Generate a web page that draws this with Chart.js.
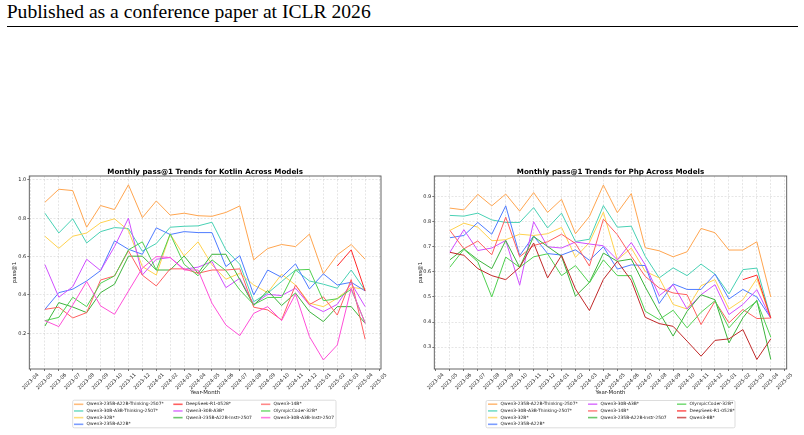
<!DOCTYPE html>
<html>
<head>
<meta charset="utf-8">
<title>Monthly pass@1 Trends</title>
<script src="https://cdn.jsdelivr.net/npm/chart.js@4.4.1/dist/chart.umd.min.js"></script>
<style>
  body { margin: 0; width: 804px; height: 435px; background: #fff; position: relative; overflow: hidden; }
  #header { position: absolute; left: 6.7px; top: 2.2px; font-family: 'Liberation Serif', 'Times New Roman', serif; font-size: 19.6px; line-height: 1; color: #000; white-space: nowrap; }
  #rule { position: absolute; left: 6.5px; top: 26.3px; width: 791px; height: 1px; background: #000; }
  canvas { position: absolute; }
</style>
</head>
<body>
<div id="header">Published as a conference paper at ICLR 2026</div>
<div id="rule"></div>
<canvas id="kotlin-chart" width="400" height="272" style="left:0;top:160px"></canvas>
<canvas id="php-chart" width="404" height="272" style="left:400px;top:160px"></canvas>
<script>
'use strict';

// Tick labels of the x axis (data runs 2023-05 .. 2025-04)
const months = ['2023-04', '2023-05', '2023-06', '2023-07', '2023-08', '2023-09', '2023-10',
  '2023-11', '2023-12', '2024-01', '2024-02', '2024-03', '2024-04', '2024-05', '2024-06',
  '2024-07', '2024-08', '2024-09', '2024-10', '2024-11', '2024-12', '2025-01', '2025-02',
  '2025-03', '2025-04', '2025-05'];

const kotlinYTicks = [0.2, 0.4, 0.6, 0.8, 1.0];
const phpYTicks = [0.3, 0.4, 0.5, 0.6, 0.7, 0.8, 0.9];

// Kotlin pass@1 per month
const kotlinThinking235 = [0.883, 0.951, 0.944, 0.753, 0.866, 0.845, 0.974, 0.803, 0.890, 0.816, 0.826, 0.813, 0.810, 0.830, 0.864, 0.583, 0.642, 0.663, 0.652, 0.717, 0.510, 0.609, 0.663, 0.586];
const kotlinThinking30 = [0.826, 0.723, 0.797, 0.671, 0.730, 0.751, 0.746, 0.628, 0.668, 0.753, 0.758, 0.760, 0.779, 0.635, 0.560, 0.365, 0.409, 0.470, 0.530, 0.473, 0.456, 0.435, 0.530, 0.423];
const kotlin32B = [0.706, 0.643, 0.706, 0.723, 0.776, 0.797, 0.736, 0.548, 0.504, 0.717, 0.603, 0.677, 0.557, 0.482, 0.513, 0.452, 0.412, 0.508, 0.452, 0.357, 0.339, 0.383, 0.440, 0.430];
const kotlin235B = [0.325, 0.412, 0.430, 0.473, 0.527, 0.682, 0.638, 0.612, 0.750, 0.715, 0.730, 0.725, 0.725, 0.548, 0.605, 0.400, 0.530, 0.492, 0.562, 0.431, 0.510, 0.452, 0.466, 0.421];
const kotlinDeepSeek = [null, null, null, null, null, null, null, null, null, null, null, null, null, null, null, null, null, null, null, null, null, 0.551, 0.635, 0.420];
const kotlin30B = [0.558, 0.388, 0.443, 0.586, 0.527, 0.652, 0.800, 0.504, 0.586, 0.595, 0.534, 0.545, 0.574, 0.438, 0.487, 0.351, 0.403, 0.397, 0.435, 0.348, 0.313, 0.351, 0.461, 0.339];
const kotlin235Instr = [0.238, 0.360, 0.337, 0.308, 0.412, 0.456, 0.602, 0.602, 0.530, 0.530, 0.603, 0.513, 0.612, 0.612, 0.480, 0.345, 0.423, 0.345, 0.410, 0.313, 0.261, 0.339, 0.339, 0.252];
const kotlin14B = [0.325, 0.336, 0.280, 0.308, 0.478, 0.499, 0.630, 0.503, 0.447, 0.536, 0.536, 0.513, 0.530, 0.530, 0.536, 0.336, 0.322, 0.270, 0.452, 0.350, 0.390, 0.295, 0.480, 0.169];
const kotlinOlympic = [0.266, 0.283, 0.388, 0.339, 0.461, 0.499, 0.635, 0.677, 0.530, 0.718, 0.560, 0.500, 0.583, 0.527, 0.426, 0.350, 0.387, 0.387, 0.530, 0.533, 0.370, 0.380, 0.430, 0.255];
const kotlin30BInstr = [0.266, 0.235, 0.348, 0.470, 0.343, 0.299, 0.420, 0.540, 0.600, 0.595, 0.530, 0.530, 0.357, 0.243, 0.188, 0.304, 0.339, 0.266, 0.405, 0.183, 0.061, 0.139, 0.435, 0.252];

// Php pass@1 per month
const phpThinking235 = [0.854, 0.847, 0.909, 0.863, 0.910, 0.842, 0.916, 0.837, 0.889, 0.752, 0.821, 0.946, 0.836, 0.912, 0.696, 0.684, 0.660, 0.680, 0.773, 0.756, 0.687, 0.687, 0.720, 0.500];
const phpThinking30 = [0.825, 0.822, 0.834, 0.807, 0.797, 0.797, 0.856, 0.775, 0.834, 0.721, 0.730, 0.864, 0.778, 0.782, 0.662, 0.576, 0.616, 0.585, 0.631, 0.591, 0.512, 0.609, 0.615, 0.416];
const php32B = [0.765, 0.794, 0.778, 0.724, 0.728, 0.750, 0.745, 0.752, 0.777, 0.658, 0.717, 0.838, 0.648, 0.695, 0.602, 0.576, 0.470, 0.452, 0.545, 0.569, 0.452, 0.489, 0.573, 0.416];
const php235B = [0.736, 0.745, 0.797, 0.750, 0.863, 0.665, 0.743, 0.673, 0.667, 0.688, 0.646, 0.700, 0.611, 0.628, 0.625, 0.474, 0.552, 0.530, 0.530, 0.591, 0.492, 0.530, 0.500, 0.416];
const php30B = [0.678, 0.768, 0.685, 0.695, 0.725, 0.547, 0.800, 0.700, 0.695, 0.719, 0.711, 0.704, 0.648, 0.717, 0.628, 0.505, 0.549, 0.452, 0.509, 0.549, 0.430, 0.470, 0.529, 0.416];
const php14B = [0.765, 0.692, 0.723, 0.668, 0.818, 0.660, 0.705, 0.720, 0.750, 0.713, 0.623, 0.810, 0.748, 0.662, 0.582, 0.536, 0.516, 0.509, 0.390, 0.483, 0.397, 0.450, 0.414, 0.416];
const php235Instr = [0.648, 0.692, 0.648, 0.613, 0.725, 0.618, 0.741, 0.701, 0.662, 0.503, 0.558, 0.675, 0.642, 0.651, 0.540, 0.439, 0.344, 0.443, 0.509, 0.489, 0.317, 0.417, 0.487, 0.251];
const phpOlympic = [0.619, 0.690, 0.640, 0.500, 0.659, 0.618, 0.660, 0.672, 0.585, 0.625, 0.556, 0.648, 0.585, 0.585, 0.443, 0.410, 0.447, 0.377, 0.439, 0.485, 0.377, 0.440, 0.483, 0.340];
const phpDeepSeek = [null, null, null, null, null, null, null, null, null, null, null, null, null, null, null, null, null, null, null, null, null, 0.569, 0.587, 0.416];
const php8B = [0.678, 0.666, 0.613, 0.585, 0.569, 0.618, 0.715, 0.576, 0.666, 0.532, 0.446, 0.570, 0.642, 0.566, 0.419, 0.394, 0.383, 0.324, 0.264, 0.327, 0.333, 0.370, 0.251, 0.333];

// Line colour for every model
const modelColors = {
  'Qwen3-235B-A22B-Thinking-2507*': '#ffa54f',
  'Qwen3-30B-A3B-Thinking-2507*': '#48d1b4',
  'Qwen3-32B*': '#ffd24f',
  'Qwen3-235B-A22B*': '#4f7cff',
  'DeepSeek-R1-0528*': '#ff2a2a',
  'Qwen3-30B-A3B*': '#d04fff',
  'Qwen3-235B-A22B-Instr-2507': '#3cb43c',
  'Qwen3-14B*': '#ff6060',
  'OlympicCoder-32B*': '#50d050',
  'Qwen3-30B-A3B-Instr-2507': '#ff4fd8',
  'Qwen3-8B*': '#c02828'
};

// Legend order follows the reference (filled column by column)
const kotlinSeries = [
  ['Qwen3-235B-A22B-Thinking-2507*', kotlinThinking235],
  ['Qwen3-30B-A3B-Thinking-2507*', kotlinThinking30],
  ['Qwen3-32B*', kotlin32B],
  ['Qwen3-235B-A22B*', kotlin235B],
  ['DeepSeek-R1-0528*', kotlinDeepSeek],
  ['Qwen3-30B-A3B*', kotlin30B],
  ['Qwen3-235B-A22B-Instr-2507', kotlin235Instr],
  ['Qwen3-14B*', kotlin14B],
  ['OlympicCoder-32B*', kotlinOlympic],
  ['Qwen3-30B-A3B-Instr-2507', kotlin30BInstr]
];

const phpSeries = [
  ['Qwen3-235B-A22B-Thinking-2507*', phpThinking235],
  ['Qwen3-30B-A3B-Thinking-2507*', phpThinking30],
  ['Qwen3-32B*', php32B],
  ['Qwen3-235B-A22B*', php235B],
  ['Qwen3-30B-A3B*', php30B],
  ['Qwen3-14B*', php14B],
  ['Qwen3-235B-A22B-Instr-2507', php235Instr],
  ['OlympicCoder-32B*', phpOlympic],
  ['DeepSeek-R1-0528*', phpDeepSeek],
  ['Qwen3-8B*', php8B]
];

// Draws the axes frame, the title and a 3-column legend below the plot
const figureDecor = {
  id: 'figureDecor',
  afterDraw(chart, args, opts) {
    const ctx = chart.ctx;
    const area = chart.chartArea;
    ctx.save();
    ctx.strokeStyle = '#555';
    ctx.lineWidth = 0.9;
    ctx.strokeRect(area.left, area.top, area.right - area.left, area.bottom - area.top);

    ctx.fillStyle = '#000';
    ctx.font = 'bold 7.15px "DejaVu Sans"';
    ctx.textAlign = 'center';
    ctx.textBaseline = 'alphabetic';
    ctx.fillText(opts.title, (area.left + area.right) / 2, area.top - 2.5);

    const box = opts.legendBox;
    ctx.fillStyle = '#fff';
    ctx.strokeStyle = '#d4d4d4';
    ctx.lineWidth = 0.8;
    ctx.beginPath();
    ctx.roundRect(box.x, box.y, box.w, box.h, 1.5);
    ctx.fill();
    ctx.stroke();

    ctx.font = '4.45px "DejaVu Sans"';
    ctx.textAlign = 'left';
    ctx.textBaseline = 'middle';
    let k = 0;
    opts.columns.forEach(function(colX, c) {
      for (let r = 0; r < opts.rowsPerColumn[c]; r++, k++) {
        const ds = chart.data.datasets[k];
        const y = opts.firstRow + r * opts.rowStep;
        ctx.globalAlpha = 0.75;
        ctx.strokeStyle = ds.borderColor;
        ctx.lineWidth = 1.6;
        ctx.beginPath();
        ctx.moveTo(colX, y);
        ctx.lineTo(colX + 9.3, y);
        ctx.stroke();
        ctx.globalAlpha = 1;
        ctx.fillStyle = '#222';
        ctx.fillText(ds.label, colX + 12.6, y);
      }
    });
    ctx.restore();
  }
};

function makeChart(canvasId, series, yTicks, yMin, yMax, layout) {
  const datasets = series.map(function(entry, i) {
    const label = entry[0];
    const values = entry[1];
    return {
      label: label,
      data: values.map(function(v, j) { return { x: j + 1, y: v }; }),
      borderColor: modelColors[label],
      backgroundColor: modelColors[label],
      borderWidth: 1,
      pointRadius: 0,
      tension: 0,
      fill: false,
      order: series.length - i
    };
  });

  const tickFont = { family: 'DejaVu Sans', size: 5 };
  const titleFont = { family: 'DejaVu Sans', size: 5.4 };

  return new Chart(document.getElementById(canvasId), {
    type: 'line',
    data: { datasets: datasets },
    options: {
      responsive: false,
      animation: false,
      events: [],
      layout: { padding: { top: 16, right: layout.padRight, bottom: 36, left: 0 } },
      plugins: {
        legend: { display: false },
        tooltip: { enabled: false },
        figureDecor: layout.decor
      },
      scales: {
        x: {
          type: 'linear',
          min: -0.12,
          max: 25.14,
          afterBuildTicks: function(scale) {
            scale.ticks = months.map(function(m, i) { return { value: i }; });
          },
          afterFit: function(scale) { scale.height = 27; },
          ticks: {
            autoSkip: false,
            minRotation: 45,
            maxRotation: 45,
            padding: 1,
            labelOffset: 7,
            font: tickFont,
            color: '#222',
            callback: function(value) { return months[value]; }
          },
          grid: { color: 'rgba(0,0,0,0.17)', lineWidth: 0.6, tickLength: 2, tickColor: '#555', tickWidth: 0.8 },
          border: { display: false, dash: [2, 1.5] },
          title: { display: true, text: 'Year-Month', font: titleFont, color: '#222', padding: { top: 0, bottom: 0 } }
        },
        y: {
          min: yMin,
          max: yMax,
          afterBuildTicks: function(scale) {
            scale.ticks = yTicks.map(function(v) { return { value: v }; });
          },
          afterFit: function(scale) { scale.width = layout.yWidth; },
          ticks: {
            padding: 1,
            font: tickFont,
            color: '#222',
            callback: function(value) { return value.toFixed(1); }
          },
          grid: { color: 'rgba(0,0,0,0.17)', lineWidth: 0.6, tickLength: 2, tickColor: '#555', tickWidth: 0.8 },
          border: { display: false, dash: [2, 1.5] },
          title: { display: true, text: 'pass@1', font: titleFont, color: '#222', padding: { top: layout.yTitlePad, bottom: 0 } }
        }
      }
    },
    plugins: [figureDecor]
  });
}

function setup() {
  makeChart('kotlin-chart', kotlinSeries, kotlinYTicks, 0.014, 1.02, {
    padRight: 19,
    yWidth: 29.3,
    yTitlePad: 11.7,
    decor: {
      title: 'Monthly pass@1 Trends for Kotlin Across Models',
      legendBox: { x: 72.7, y: 240.2, w: 263.3, h: 27.6 },
      columns: [74, 173.3, 261],
      rowsPerColumn: [4, 3, 3],
      firstRow: 244.3,
      rowStep: 6.67
    }
  });

  makeChart('php-chart', phpSeries, phpYTicks, 0.213, 0.982, {
    padRight: 17.3,
    yWidth: 34.3,
    yTitlePad: 17.4,
    decor: {
      title: 'Monthly pass@1 Trends for Php Across Models',
      legendBox: { x: 86, y: 240.5, w: 249, h: 27.3 },
      columns: [88, 188, 277],
      rowsPerColumn: [4, 3, 3],
      firstRow: 244.2,
      rowStep: 6.7
    }
  });
}

window.addEventListener('load', setup);
</script>
</body>
</html>
